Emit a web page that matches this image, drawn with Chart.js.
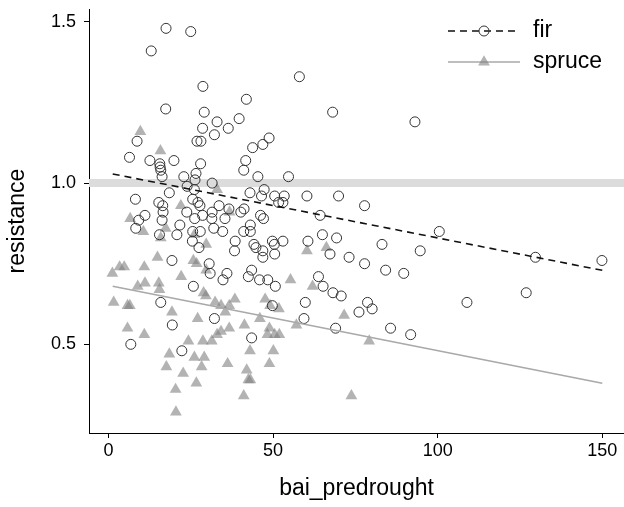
<!DOCTYPE html>
<html>
<head>
<meta charset="utf-8">
<script src="https://cdn.jsdelivr.net/npm/chart.js@4.4.0/dist/chart.umd.min.js"></script>
<style>
  html, body { margin: 0; padding: 0; background: #ffffff; overflow: hidden; }
  #wrap { width: 624px; height: 507px; }
</style>
</head>
<body>
<div id="wrap"><canvas id="chart" width="624" height="507"></canvas></div>
<script>
// Pre-drought basal area increment vs. drought resistance, by species
const SPECIES = ['fir', 'spruce'];

const FIR_X = [17.5, 25.0, 13.0, 58.0, 28.7, 41.9, 17.4, 68.1, 29.1, 93.1, 33.0, 39.7, 36.4, 28.6, 32.2, 8.7, 26.9, 28.1, 48.8, 46.9,
  43.8, 6.4, 12.6, 15.6, 15.7, 15.9, 19.9, 41.7, 28.0, 41.1, 16.3, 22.9, 26.6, 45.4, 54.7, 26.3, 31.5, 23.9, 26.1, 18.5,
  43.0, 47.3, 46.5, 50.5, 53.4, 60.3, 69.9, 8.2, 25.6, 27.2, 15.3, 16.5, 33.6, 51.7, 53.0, 77.8, 27.8, 23.8, 16.6, 31.5,
  36.6, 40.2, 41.2, 28.6, 11.1, 9.2, 16.3, 26.2, 31.4, 35.4, 46.2, 47.1, 64.3, 8.3, 21.7, 32.0, 43.1, 100.5, 15.5, 20.8,
  25.6, 27.9, 34.7, 41.1, 43.1, 65.0, 69.3, 25.5, 38.5, 49.8, 53.0, 60.6, 27.5, 44.2, 44.8, 46.9, 50.4, 83.1, 38.3, 46.9,
  50.5, 67.3, 73.1, 94.7, 129.7, 149.9, 19.3, 77.8, 30.6, 84.2, 89.7, 30.9, 36.0, 43.5, 42.5, 45.9, 48.4, 34.8, 63.8, 50.7,
  25.8, 65.2, 68.2, 70.7, 126.9, 15.9, 49.8, 59.8, 78.7, 108.9, 76.1, 80.1, 19.4, 32.2, 59.4, 69.0, 85.7, 91.8, 43.5, 6.8, 22.3];
const FIR_Y = [1.48, 1.47, 1.41, 1.33, 1.30, 1.26, 1.23, 1.22, 1.22, 1.19, 1.19, 1.20, 1.17, 1.17, 1.15, 1.13, 1.13, 1.13, 1.14, 1.12,
  1.11, 1.08, 1.07, 1.06, 1.05, 1.04, 1.07, 1.07, 1.06, 1.04, 1.02, 1.02, 1.03, 1.02, 1.02, 1.01, 1.00, 0.99, 0.98, 0.97,
  0.97, 0.98, 0.96, 0.96, 0.96, 0.96, 0.96, 0.95, 0.95, 0.94, 0.94, 0.93, 0.93, 0.94, 0.94, 0.93, 0.93, 0.91, 0.91, 0.91,
  0.92, 0.91, 0.92, 0.90, 0.90, 0.885, 0.885, 0.89, 0.89, 0.89, 0.90, 0.89, 0.90, 0.86, 0.87, 0.86, 0.87, 0.85, 0.84, 0.84,
  0.85, 0.85, 0.85, 0.85, 0.85, 0.84, 0.83, 0.82, 0.82, 0.82, 0.82, 0.82, 0.80, 0.81, 0.80, 0.79, 0.81, 0.81, 0.79, 0.77,
  0.78, 0.78, 0.77, 0.79, 0.77, 0.76, 0.76, 0.75, 0.75, 0.73, 0.72, 0.72, 0.72, 0.73, 0.71, 0.70, 0.70, 0.70, 0.71, 0.68,
  0.68, 0.68, 0.66, 0.65, 0.66, 0.63, 0.62, 0.63, 0.63, 0.63, 0.60, 0.61, 0.56, 0.58, 0.58, 0.55, 0.55, 0.53, 0.52, 0.50, 0.48];

const SPRUCE_X = [9.7, 15.8, 33.0, 22.0, 36.8, 6.6, 10.6, 17.4, 15.9, 26.1, 29.7, 60.3, 66.2, 14.9, 3.4, 4.8, 1.2, 10.9, 25.8, 26.8,
  29.7, 22.1, 15.3, 8.9, 11.1, 15.5, 28.9, 29.6, 55.3, 62.0, 32.4, 38.4, 34.2, 36.7, 47.6, 49.1, 51.8, 1.6, 5.8, 6.5,
  19.3, 35.5, 27.1, 46.0, 41.3, 57.1, 71.6, 5.8, 10.9, 34.2, 36.7, 33.0, 28.7, 31.4, 24.3, 48.9, 48.3, 50.5, 51.9, 79.2,
  43.0, 50.1, 18.5, 26.1, 29.1, 36.2, 17.6, 28.3, 42.0, 48.9, 22.7, 42.5, 26.7, 43.1, 20.4, 41.1, 73.8, 20.5];
const SPRUCE_Y = [1.16, 1.10, 0.98, 0.93, 0.91, 0.89, 0.85, 0.86, 0.83, 0.84, 0.81, 0.79, 0.80, 0.77, 0.74, 0.74, 0.72, 0.74, 0.76, 0.75,
  0.73, 0.71, 0.69, 0.68, 0.69, 0.67, 0.66, 0.65, 0.70, 0.68, 0.63, 0.64, 0.62, 0.62, 0.64, 0.62, 0.61, 0.63, 0.62, 0.62,
  0.60, 0.60, 0.58, 0.58, 0.56, 0.56, 0.59, 0.55, 0.53, 0.54, 0.55, 0.53, 0.51, 0.51, 0.51, 0.55, 0.53, 0.53, 0.53, 0.51,
  0.48, 0.48, 0.47, 0.46, 0.46, 0.44, 0.43, 0.43, 0.42, 0.44, 0.41, 0.39, 0.38, 0.39, 0.36, 0.34, 0.34, 0.29];

// Fitted lines: [intercept, slope], drawn over the observed x span
const FIR_FIT = [1.031, -0.00201];
const SPRUCE_FIT = [0.6825, -0.00202];
const FIT_SPAN = [1.3, 150];

const REFERENCE_LEVEL = 1.0;
const X_TICKS = [0, 50, 100, 150];
const Y_TICKS = [0.5, 1.0, 1.5];
const X_RANGE = [-5.9, 156.6];
const Y_RANGE = [0.225, 1.54];

const FONT = 'Liberation Sans';
const toPoints = (xs, ys) => xs.map((x, i) => ({ x, y: ys[i] }));
const fitLine = (fit) => FIT_SPAN.map(x => ({ x, y: fit[0] + fit[1] * x }));

const datasets = [
  {
    key: 'fir', label: 'fir', data: toPoints(FIR_X, FIR_Y),
    pointStyle: 'circle', pointRadius: 5, pointBorderWidth: 1,
    pointBackgroundColor: 'rgba(0,0,0,0)', pointBorderColor: '#333333', order: 2
  },
  {
    key: 'spruce', label: 'spruce', data: toPoints(SPRUCE_X, SPRUCE_Y),
    pointStyle: 'triangle', pointRadius: 6.8, pointBorderWidth: 0,
    pointBackgroundColor: 'rgba(128,128,128,0.6)', pointBorderColor: 'rgba(0,0,0,0)', order: 3
  },
  {
    key: 'fir-fit', label: 'fir fit', data: fitLine(FIR_FIT), showLine: true,
    borderColor: '#111111', borderWidth: 1.6, borderDash: [7, 5], pointRadius: 0, order: 0
  },
  {
    key: 'spruce-fit', label: 'spruce fit', data: fitLine(SPRUCE_FIT), showLine: true,
    borderColor: '#a9a9a9', borderWidth: 1.6, pointRadius: 0, order: 1
  },
  {
    key: 'reference', label: 'reference', data: X_RANGE.map(x => ({ x, y: REFERENCE_LEVEL })), showLine: true,
    borderColor: '#dcdcdc', borderWidth: 8, borderCapStyle: 'butt', pointRadius: 0, order: 10
  }
];

// Key in the upper-right corner: line sample with its marker, then the species name
const speciesKey = {
  id: 'speciesKey',
  afterDraw(chart) {
    const { ctx, chartArea } = chart;
    const x0 = chartArea.right - 176, x1 = x0 + 72, xm = (x0 + x1) / 2;
    SPECIES.forEach((name, i) => {
      const line = chart.data.datasets.find(d => d.key === name + '-fit');
      const pts = chart.data.datasets.find(d => d.key === name);
      const y = chartArea.top + 22 + i * 31;
      ctx.save();
      ctx.strokeStyle = line.borderColor;
      ctx.lineWidth = line.borderWidth;
      ctx.setLineDash(line.borderDash || []);
      ctx.beginPath(); ctx.moveTo(x0, y); ctx.lineTo(x1, y); ctx.stroke();
      ctx.setLineDash([]);
      const r = pts.pointRadius;
      ctx.beginPath();
      if (pts.pointStyle === 'circle') {
        ctx.arc(xm, y, r, 0, Math.PI * 2);
        ctx.strokeStyle = pts.pointBorderColor;
        ctx.lineWidth = pts.pointBorderWidth;
        ctx.stroke();
      } else {
        for (let k = 0; k < 3; k++) {
          const a = k * 2 * Math.PI / 3;
          const px = xm + Math.sin(a) * r, py = y - Math.cos(a) * r;
          k ? ctx.lineTo(px, py) : ctx.moveTo(px, py);
        }
        ctx.closePath();
        ctx.fillStyle = pts.pointBackgroundColor;
        ctx.fill();
      }
      ctx.fillStyle = '#000000';
      ctx.font = '23px "' + FONT + '"';
      ctx.textBaseline = 'middle';
      ctx.textAlign = 'left';
      ctx.fillText(name, x1 + 13, y);
      ctx.restore();
    });
  }
};

const axisCommon = {
  type: 'linear',
  grid: { drawOnChartArea: false, drawTicks: true, tickLength: 5, color: '#000000', lineWidth: 1 },
  border: { display: true, color: '#000000', width: 1 }
};

new Chart(document.getElementById('chart'), {
  type: 'scatter',
  data: { datasets },
  options: {
    responsive: false,
    animation: false,
    events: [],
    layout: { autoPadding: false, padding: { top: 9, right: 0, bottom: 0, left: 0 } },
    plugins: { legend: { display: false }, tooltip: { enabled: false } },
    scales: {
      x: {
        ...axisCommon,
        min: X_RANGE[0], max: X_RANGE[1],
        afterBuildTicks: s => { s.ticks = X_TICKS.map(value => ({ value })); },
        afterFit: s => { s.height = 74; s.paddingLeft = 0; s.paddingRight = 0; },
        ticks: { autoSkip: false, maxRotation: 0, padding: 2, color: '#000000',
                 font: { family: FONT, size: 18 }, callback: v => String(v) },
        title: { display: true, text: 'bai_predrought', color: '#000000',
                 font: { family: FONT, size: 23 }, padding: { top: 0, bottom: 5 } }
      },
      y: {
        ...axisCommon,
        min: Y_RANGE[0], max: Y_RANGE[1],
        afterBuildTicks: s => { s.ticks = Y_TICKS.map(value => ({ value })); },
        afterFit: s => { s.width = 89; s.paddingTop = 0; s.paddingBottom = 0; },
        ticks: { autoSkip: false, padding: 8, color: '#000000',
                 font: { family: FONT, size: 18 }, callback: v => Number(v).toFixed(1) },
        title: { display: true, text: 'resistance', color: '#000000',
                 font: { family: FONT, size: 23 }, padding: { top: 4, bottom: 0 } }
      }
    }
  },
  plugins: [speciesKey]
});
</script>
</body>
</html>
